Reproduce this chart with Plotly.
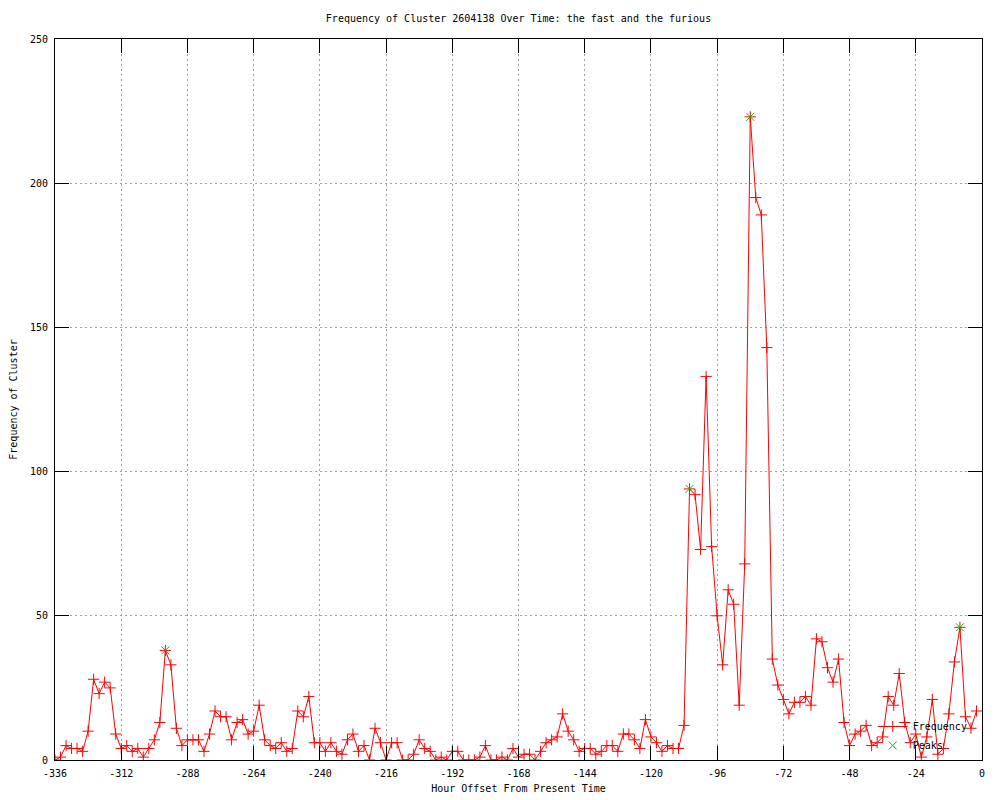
import plotly.graph_objects as go

# ---- data ----
hours = list(range(-336, 0, 2))
frequency = [
    0, 1, 5, 4, 4, 3, 10, 28, 23, 27, 25, 9,
    4, 5, 3, 4, 1, 4, 7, 13, 38, 33, 11, 5,
    7, 7, 7, 3, 9, 17, 15, 15, 7, 13, 14, 9,
    10, 19, 7, 5, 4, 6, 3, 4, 17, 15, 22, 6,
    6, 3, 6, 3, 2, 7, 9, 3, 5, 0, 11, 6,
    0, 6, 6, 0, 0, 2, 7, 4, 3, 0, 1, 0,
    3, 3, 0, 0, 0, 1, 5, 0, 0, 1, 0, 4,
    1, 2, 2, 0, 3, 6, 7, 8, 16, 10, 7, 3,
    4, 4, 2, 3, 5, 5, 3, 9, 9, 7, 4, 14,
    8, 6, 3, 5, 4, 4, 12, 94, 92, 73, 133, 74,
    50, 33, 59, 54, 19, 68, 223, 195, 189, 143, 35, 26,
    21, 16, 20, 20, 22, 19, 42, 41, 32, 27, 35, 13,
    5, 9, 10, 12, 5, 6, 8, 22, 19, 30, 13, 6,
    9, 1, 8, 21, 2, 4, 16, 34, 46, 15, 11, 17,
]
peak_hours = [-296, -106, -84, -8]
peak_values = [38, 94, 223, 46]

x_tickvals = [-336, -312, -288, -264, -240, -216, -192, -168, -144, -120, -96, -72, -48, -24, 0]
x_ticktext = ["-336", "-312", "-288", "-264", "-240", "-216", "-192", "-168",
              "-144", "-120", "-96", "-72", "-48", "-24", "0"]
y_tickvals = [0, 50, 100, 150, 200, 250]
y_ticktext = ["0", "50", "100", "150", "200", "250"]

FONT = "DejaVu Sans Mono"

fig = go.Figure()
fig.add_trace(go.Scatter(
    x=hours, y=frequency, mode="lines+markers", name="Frequency",
    line=dict(color="#ff0000", width=1),
    marker=dict(symbol="cross-thin", size=8, line=dict(color="#ff0000", width=1), color="#ff0000"),
))
fig.add_trace(go.Scatter(
    x=peak_hours, y=peak_values, mode="markers", name="Peaks",
    marker=dict(symbol="x-thin", size=8, line=dict(color="#00c000", width=1), color="#00c000"),
))

axis_common = dict(
    showline=True, linecolor="black", linewidth=1, mirror="ticks",
    ticks="inside", ticklen=14, tickcolor="black", tickwidth=1,
    showgrid=True, gridcolor="#a0a0a0", griddash="2px,3px", gridwidth=1,
    zeroline=False, tickfont=dict(family=FONT, size=10, color="black"),
)

W, H = 992, 792
fig.update_layout(
    width=W, height=H,
    margin=dict(l=47, r=18, t=31, b=40),
    paper_bgcolor="white", plot_bgcolor="white",
    font=dict(family=FONT, size=10, color="black"),
    title=dict(text="Frequency of Cluster 2604138 Over Time: the fast and the furious",
               x=0.5, xref="paper", xanchor="center",
               y=1 - 10 / H, yref="container", yanchor="middle",
               font=dict(family=FONT, size=10, color="black")),
    xaxis=dict(range=[-336, 0], tickvals=x_tickvals, ticktext=x_ticktext,
               title=dict(text="Hour Offset From Present Time", standoff=6,
                          font=dict(family=FONT, size=10)),
               automargin=False, ticklabelstandoff=4, **axis_common),
    yaxis=dict(range=[0, 250], tickvals=y_tickvals, ticktext=y_ticktext,
               title=dict(text="Frequency of Cluster", standoff=10,
                          font=dict(family=FONT, size=10)),
               automargin=False, ticklabelstandoff=4, **axis_common),
    legend=dict(x=0.99, y=0.0, xanchor="right", yanchor="bottom",
                bgcolor="rgba(0,0,0,0)", borderwidth=0,
                font=dict(family=FONT, size=10, color="black"),
                tracegroupgap=0, itemwidth=30),
    showlegend=True,
)

fig.write_html("out.html")
